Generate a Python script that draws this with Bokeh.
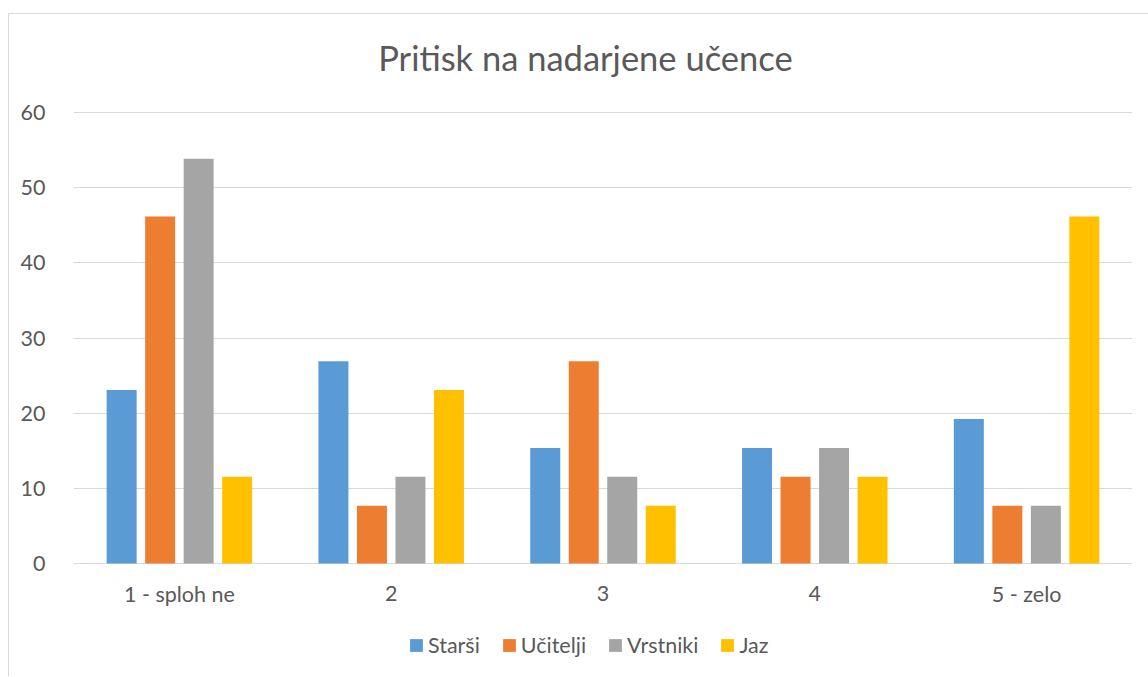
from bokeh.plotting import figure
from bokeh.models import ColumnDataSource, FactorRange, Range1d, Legend, LegendItem, Label, Spacer
from bokeh.layouts import column, row
from bokeh.transform import dodge
from bokeh.core.properties import value
from bokeh.embed import file_html
from bokeh.resources import INLINE

categories = ["1 - sploh ne", "2", "3", "4", "5 - zelo"]
series_names = ["Starši", "Učitelji", "Vrstniki", "Jaz"]
starsi = [23.08, 26.92, 15.38, 15.38, 19.23]
ucitelji = [46.15, 7.69, 26.92, 11.54, 7.69]
vrstniki = [53.85, 11.54, 11.54, 15.38, 7.69]
jaz = [11.54, 23.08, 7.69, 11.54, 46.15]
y_ticks = [0, 10, 20, 30, 40, 50, 60]
title_text = "Pritisk na nadarjene učence"

colors = ["#5B9BD5", "#ED7D31", "#A5A5A5", "#FFC000"]
FONT = "Lato"
TXT = "#595959"

source = ColumnDataSource(dict(cat=categories, s0=starsi, s1=ucitelji, s2=vrstniki, s3=jaz))

p = figure(width=1140, height=663, x_range=FactorRange(*categories), y_range=Range1d(-14.5, 73.04),
           output_backend="svg", toolbar_location=None, title=None,
           min_border_left=64, min_border_right=17, min_border_top=0, min_border_bottom=5,
           styles={"border-left": "1px solid #d9d9d9", "border-top": "1px solid #d9d9d9"})
p.outline_line_color = None

offsets = [-0.2727, -0.0909, 0.0909, 0.2727]
renderers = []
for i, (name, col) in enumerate(zip(series_names, colors)):
    r = p.vbar(x=dodge("cat", offsets[i], range=p.x_range), top="s%d" % i, width=0.1416,
               source=source, fill_color=col, line_color=None)
    renderers.append(r)

# category labels below the zero line
p.text(x="cat", y=-4.0, text="cat", source=source, text_align="center", text_baseline="middle",
       text_font=value(FONT), text_font_size="21.5px", text_color=TXT)

p.xaxis.visible = False
p.xgrid.grid_line_color = None
p.ygrid.grid_line_color = "#d9d9d9"
p.ygrid.grid_line_width = 1
p.yaxis.ticker = y_ticks
p.yaxis.axis_line_color = None
p.yaxis.major_tick_line_color = None
p.yaxis.minor_tick_line_color = None
p.yaxis.major_label_standoff = 22
p.yaxis.major_label_text_font = FONT
p.yaxis.major_label_text_font_size = "21.5px"
p.yaxis.major_label_text_color = TXT

p.add_layout(Label(x=2.417, y=67.35, text=title_text, text_align="center", text_baseline="alphabetic",
                   text_font=FONT, text_font_size="34.5px", text_color=TXT))

legend = Legend(items=[LegendItem(label=n, renderers=[r]) for n, r in zip(series_names, renderers)],
                orientation="horizontal", location=(335, 14))
legend.label_text_font = FONT
legend.label_text_font_size = "21.5px"
legend.label_text_color = TXT
legend.glyph_width = 16
legend.glyph_height = 16
legend.label_standoff = 4
legend.spacing = 21
legend.padding = 0
legend.margin = 0
legend.border_line_color = None
legend.background_fill_alpha = 0
p.add_layout(legend)

layout = row(Spacer(width=8), column(Spacer(height=13), p))
open("out.html", "w").write(file_html(layout, INLINE))
